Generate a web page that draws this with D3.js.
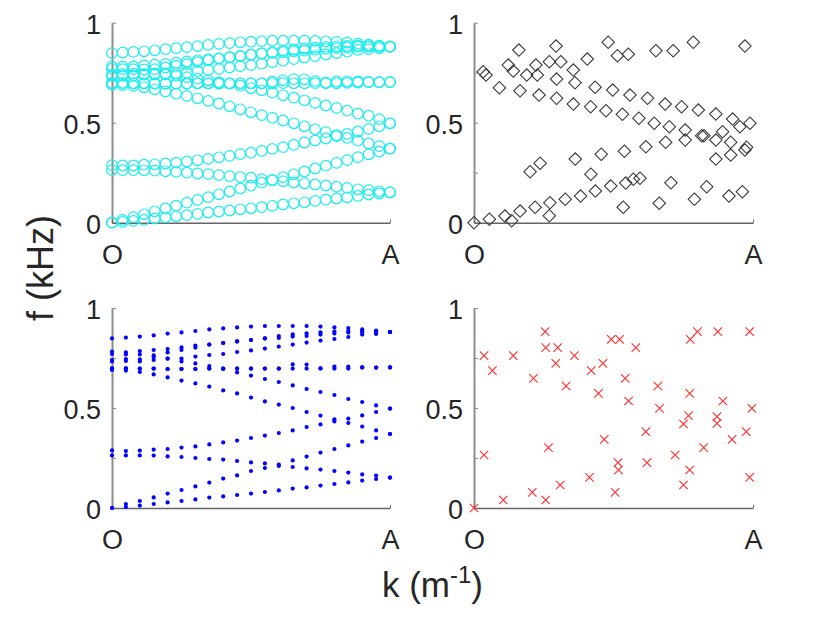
<!DOCTYPE html>
<html>
<head>
<meta charset="utf-8">
<script src="https://cdn.jsdelivr.net/npm/d3@7"></script>
<style>
  body { margin: 0; background: #fff; }
  text { font-family: "Liberation Sans", Arial, sans-serif; fill: #262626; }
</style>
</head>
<body>
<svg id="chart" width="830" height="620"></svg>
<script>
// ---- data (f in kHz, k as sample index along O -> A) ----
const xTickLabels = ["O", "A"];
const yTicks = [0, 0.25, 0.5, 0.75, 1];
const yTickLabels = { 0: "0", 0.5: "0.5", 1: "1" };

// top-left: 27 samples along O-A per band
const bandsFine = [
  [0, .004, .009, .014, .021, .027, .032, .038, .044, .051, .056, .061, .067, .072, .078, .084, .091, .097, .102, .109, .115, .121, .127, .134, .141, .146, .152],
  [0, .014, .028, .042, .057, .071, .085, .1, .114, .128, .142, .156, .171, .185, .2, .214, .228, .242, .256, .271, .285, .299, .313, .328, .342, .356, .37],
  [.263, .263, .263, .262, .26, .257, .254, .25, .246, .243, .238, .233, .228, .225, .218, .212, .207, .201, .197, .191, .186, .18, .174, .167, .163, .157, .152],
  [.288, .286, .286, .29, .292, .296, .3, .306, .312, .319, .327, .334, .343, .35, .359, .369, .378, .389, .401, .411, .421, .433, .444, .456, .469, .482, .497],
  [.69, .688, .684, .677, .667, .656, .645, .634, .622, .609, .596, .582, .567, .552, .538, .524, .511, .497, .482, .467, .453, .438, .424, .41, .396, .383, .37],
  [.733, .734, .735, .74, .745, .742, .735, .728, .72, .712, .703, .695, .685, .672, .662, .65, .637, .625, .612, .599, .586, .574, .56, .545, .535, .518, .497],
  [.698, .698, .697, .697, .696, .695, .695, .696, .697, .697, .696, .697, .697, .697, .697, .697, .698, .697, .697, .698, .697, .697, .699, .701, .703, .702, .703],
  [.698, .698, .697, .697, .696, .696, .695, .695, .697, .697, .697, .697, .697, .697, .697, .705, .712, .718, .717, .708, .7, .706, .707, .706, .704, .703, .703],
  [.74, .743, .745, .743, .741, .746, .747, .75, .758, .764, .769, .776, .783, .788, .795, .803, .81, .818, .826, .833, .841, .848, .855, .864, .868, .872, .88],
  [.77, .768, .768, .766, .768, .776, .785, .793, .803, .812, .82, .826, .832, .84, .846, .849, .852, .857, .86, .865, .869, .873, .876, .879, .88, .88, .88],
  [.782, .78, .781, .786, .79, .794, .8, .806, .812, .816, .822, .828, .834, .84, .846, .853, .861, .866, .871, .875, .879, .882, .884, .885, .883, .882, .88],
  [.848, .851, .854, .857, .862, .868, .873, .878, .883, .889, .894, .898, .902, .905, .908, .91, .91, .91, .91, .909, .907, .904, .9, .895, .89, .885, .88]
];

// bottom-left: 21 samples along O-A per band
const bandsCoarse = [
  [0, .005, .012, .02, .028, .035, .043, .052, .058, .065, .072, .08, .088, .097, .103, .112, .12, .128, .137, .145, .152],
  [0, .02, .035, .053, .072, .09, .108, .127, .147, .163, .185, .2, .217, .238, .257, .277, .295, .313, .332, .35, .37],
  [.263, .263, .263, .262, .258, .255, .25, .245, .242, .235, .228, .223, .21, .205, .198, .192, .185, .177, .168, .162, .152],
  [.288, .285, .287, .292, .295, .302, .308, .318, .328, .337, .35, .362, .375, .388, .405, .418, .433, .447, .463, .48, .497],
  [.69, .687, .68, .668, .653, .637, .623, .607, .588, .573, .552, .533, .517, .5, .48, .462, .443, .425, .407, .388, .37],
  [.733, .735, .733, .755, .747, .733, .723, .71, .697, .678, .662, .645, .63, .613, .595, .58, .565, .545, .53, .513, .497],
  [.698, .698, .697, .697, .695, .695, .695, .697, .695, .697, .697, .697, .697, .697, .697, .698, .697, .697, .703, .702, .703],
  [.698, .698, .697, .697, .695, .695, .695, .697, .697, .697, .697, .697, .697, .718, .717, .698, .707, .707, .703, .702, .703],
  [.74, .745, .743, .74, .747, .747, .757, .765, .77, .78, .788, .797, .807, .817, .827, .837, .845, .855, .867, .87, .88],
  [.77, .768, .768, .763, .778, .79, .802, .817, .825, .833, .84, .848, .85, .857, .86, .867, .873, .877, .88, .88, .88],
  [.782, .778, .785, .79, .795, .803, .812, .817, .825, .833, .84, .848, .86, .868, .873, .878, .882, .885, .883, .882, .88],
  [.848, .852, .857, .863, .872, .878, .885, .893, .898, .903, .907, .91, .91, .91, .91, .907, .903, .9, .893, .887, .88]
];

// top-right: scattered diamonds (k as fraction of O-A, f)
const diamondK = [0, .055, .111, .135, .165, .219, .27, .272, .327, .382, .435, .49, .535, .544, .571, .595, .664, .706, .79, .834, .914, .962,
  .201, .237, .363, .419, .456, .539, .616, .687, .757, .816, .824, .867, .867, .92, .92, .971, .977,
  .033, .043, .091, .123, .141, .161, .165, .189, .222, .227, .233, .27, .294, .296, .296, .311, .356, .362, .356, .406, .418, .434, .473,
  .481, .497, .514, .532, .553, .559, .591, .622, .646, .652, .685, .7, .714, .744, .757, .786, .804, .867, .927, .953, .971, .989, .891];
const diamondF = [0, .017, .033, .01, .058, .077, .035, .1, .117, .133, .158, .183, .077, .198, .217, .222, .097, .2, .117, .18, .133, .155,
  .255, .297, .318, .242, .342, .357, .38, .402, .413, .435, .435, .413, .318, .338, .402, .363, .377,
  .755, .738, .675, .788, .758, .863, .66, .738, .788, .738, .638, .805, .883, .718, .622, .805, .763, .7, .593, .818, .58, .677, .56,
  .902, .663, .835, .542, .842, .638, .522, .622, .497, .86, .593, .48, .86, .58, .463, .902, .563, .543, .518, .48, .883, .497, .455];

// bottom-right: scattered crosses
const crossK = [0, .036, .036, .066, .105, .141, .209, .213, .255, .257, .257, .267, .293, .3, .309, .33, .36, .414, .42, .446, .462, .467,
  .492, .522, .506, .516, .518, .542, .554, .58, .616, .62, .659, .665, .721, .751, .751, .769, .773, .773, .775, .801, .823, .874,
  .871, .871, .892, .925, .976, .988, .988, .996];
const crossF = [0, .265, .762, .687, .04, .762, .078, .648, .882, .802, .04, .302, .723, .802, .115, .61, .762, .153, .687, .573, .723, .343,
  .843, .843, .078, .227, .19, .648, .535, .802, .382, .227, .61, .498, .265, .115, .42, .462, .573, .19, .843, .882, .302, .882,
  .457, .423, .535, .343, .382, .882, .153, .498];

// ---- layout ----
const svg = d3.select("#chart");
const panels = [
  { x0: 112, x1: 390, y0: 222.7, y1: 22.7 },
  { x0: 474, x1: 753, y0: 222.7, y1: 22.7 },
  { x0: 112, x1: 390, y0: 508, y1: 308 },
  { x0: 474, x1: 753, y0: 508, y1: 308 }
];
const tickFont = 27;

function drawAxes(p, x) {
  const y = d3.scaleLinear().domain([0, 1]).range([p.y0, p.y1]);
  const g = svg.append("g");

  const yAxis = g.append("g")
    .attr("transform", `translate(${p.x0},0)`)
    .call(d3.axisLeft(y).tickValues(yTicks).tickSizeInner(-4).tickSizeOuter(0)
      .tickFormat((d) => yTickLabels[d] || "").tickPadding(11));
  yAxis.select(".domain").attr("stroke", "#8c8c8c").attr("stroke-width", 2);
  yAxis.selectAll(".tick line").attr("stroke", "#8c8c8c");
  yAxis.selectAll(".tick text").attr("font-size", tickFont).attr("fill", "#262626")
    .attr("font-family", "Liberation Sans, Arial, sans-serif").attr("dy", "0.4em");

  const xAxis = g.append("g")
    .attr("transform", `translate(0,${p.y0})`)
    .call(d3.axisBottom(x).tickValues(x.domain()).tickSizeInner(-3).tickSizeOuter(0)
      .tickFormat((d, i) => xTickLabels[i]).tickPadding(22));
  xAxis.select(".domain").attr("stroke", "#666").attr("stroke-width", 1.6);
  xAxis.selectAll(".tick line").attr("stroke", "#666");
  xAxis.selectAll(".tick text").attr("font-size", tickFont).attr("fill", "#262626")
    .attr("font-family", "Liberation Sans, Arial, sans-serif");
  return y;
}

// top-left: cyan circles
{
  const p = panels[0];
  const x = d3.scaleLinear().domain([0, bandsFine[0].length - 1]).range([p.x0, p.x1]);
  const y = drawAxes(p, x);
  const pts = bandsFine.flatMap((b) => b.map((v, i) => ({ i, v })));
  svg.append("g").selectAll("circle").data(pts).join("circle")
    .attr("cx", (d) => x(d.i)).attr("cy", (d) => y(d.v)).attr("r", 5.3)
    .attr("fill", "none").attr("stroke", "#19eef0").attr("stroke-width", 1.2);
}

// top-right: black diamonds
{
  const p = panels[1];
  const x = d3.scaleLinear().domain([0, 1]).range([p.x0, p.x1]);
  const y = drawAxes(p, x);
  const sym = d3.symbol(d3.symbolSquare, 78);
  svg.append("g").selectAll("path").data(diamondK).join("path")
    .attr("d", sym)
    .attr("transform", (d, i) => `translate(${x(d)},${y(diamondF[i])}) rotate(45)`)
    .attr("fill", "none").attr("stroke", "#3a3a3a").attr("stroke-width", 1.1);
}

// bottom-left: blue dots
{
  const p = panels[2];
  const x = d3.scaleLinear().domain([0, bandsCoarse[0].length - 1]).range([p.x0, p.x1]);
  const y = drawAxes(p, x);
  const pts = bandsCoarse.flatMap((b) => b.map((v, i) => ({ i, v })));
  svg.append("g").selectAll("circle").data(pts).join("circle")
    .attr("cx", (d) => x(d.i)).attr("cy", (d) => y(d.v)).attr("r", 2.1)
    .attr("fill", "#0000ff");
}

// bottom-right: red crosses
{
  const p = panels[3];
  const x = d3.scaleLinear().domain([0, 1]).range([p.x0, p.x1]);
  const y = drawAxes(p, x);
  const r = 4.2;
  svg.append("g").selectAll("path").data(crossK).join("path")
    .attr("d", (d, i) => {
      const cx = x(d), cy = y(crossF[i]);
      return `M${cx - r},${cy - r}L${cx + r},${cy + r}M${cx - r},${cy + r}L${cx + r},${cy - r}`;
    })
    .attr("fill", "none").attr("stroke", "#ff3333").attr("stroke-width", 1.2);
}

// shared labels
svg.append("text")
  .attr("transform", "translate(53,268) rotate(-90)")
  .attr("text-anchor", "middle").attr("font-size", 36)
  .text("f (kHz)");

const xl = svg.append("text")
  .attr("x", 432.5).attr("y", 597).attr("text-anchor", "middle").attr("font-size", 35);
xl.append("tspan").text("k (m");
xl.append("tspan").attr("font-size", 24).attr("dy", -14).text("-1");
xl.append("tspan").attr("dy", 14).text(")");
</script>
</body>
</html>
